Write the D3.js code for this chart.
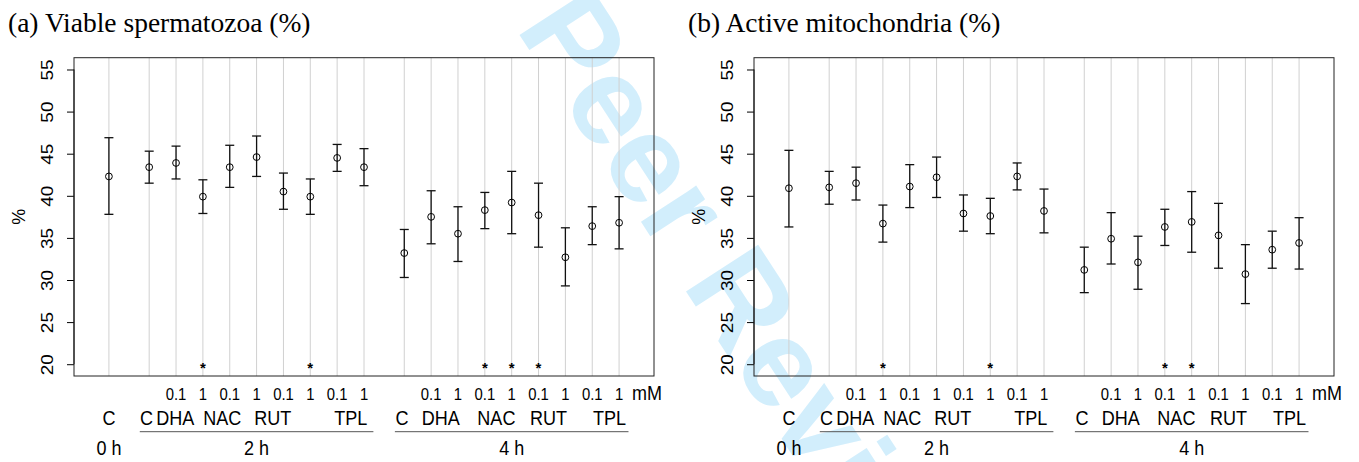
<!DOCTYPE html>
<html><head><meta charset="utf-8">
<script src="https://cdn.jsdelivr.net/npm/d3@7"></script>
<style>html,body{margin:0;padding:0;background:#fff;}svg{display:block;}</style>
</head><body>
<script>
// ---------- data ----------
const timeGroups = ["0 h", "2 h", "4 h"];
const groupOf = [0, 1,1,1,1,1,1,1,1,1, 2,2,2,2,2,2,2,2,2];
const doseLabels = ["", "", "0.1","1","0.1","1","0.1","1","0.1","1", "", "0.1","1","0.1","1","0.1","1","0.1","1"];
const agentLabels0h = ["C"];
const agentLabels = ["C", "DHA", "NAC", "RUT", "TPL"];
const doseUnit = "mM";
const yTicks = [20, 25, 30, 35, 40, 45, 50, 55];
const panelTitles = ["(a) Viable spermatozoa (%)", "(b) Active mitochondria (%)"];

const viableMean = [42.3, 43.4, 43.9, 39.9, 43.4, 44.6, 40.5, 39.9, 44.5, 43.4, 33.2, 37.5, 35.5, 38.3, 39.2, 37.7, 32.7, 36.4, 36.8];
const viableHigh = [46.9, 45.3, 45.9, 41.9, 46.0, 47.1, 42.7, 42.0, 46.1, 45.6, 36.0, 40.6, 38.7, 40.4, 42.9, 41.5, 36.2, 38.7, 39.9];
const viableLow  = [37.8, 41.5, 42.0, 37.9, 41.0, 42.3, 38.4, 37.8, 42.9, 41.2, 30.3, 34.3, 32.2, 36.1, 35.5, 33.9, 29.3, 34.2, 33.7];
const viableSig  = [0,0,0,1,0,0,0,1,0,0, 0,0,0,1,1,1,0,0,0];

const mitoMean = [40.9, 41.0, 41.5, 36.7, 41.1, 42.2, 37.9, 37.6, 42.3, 38.2, 31.2, 34.9, 32.1, 36.3, 36.9, 35.3, 30.7, 33.6, 34.4];
const mitoHigh = [45.4, 42.9, 43.4, 38.9, 43.7, 44.6, 40.1, 39.7, 43.9, 40.8, 33.9, 38.0, 35.2, 38.4, 40.5, 39.1, 34.2, 35.8, 37.4];
const mitoLow  = [36.3, 39.0, 39.5, 34.5, 38.6, 39.8, 35.8, 35.5, 40.7, 35.6, 28.5, 31.9, 28.9, 34.1, 33.3, 31.4, 27.2, 31.4, 31.3];
const mitoSig  = [0,0,0,1,0,0,0,1,0,0, 0,0,0,1,1,0,0,0,0];

// ---------- layout ----------
const W = 1359, H = 462;
const FONT = "'Liberation Sans', Arial, Helvetica, sans-serif";
const SERIF = "'Liberation Serif', 'Times New Roman', serif";

// x positions (domain units) derived from group structure: 1.5 gap between time groups
const xPos = [];
groupOf.forEach((g, i) => {
  if (i === 0) xPos.push(0);
  else xPos.push(xPos[i - 1] + (g !== groupOf[i - 1] ? 1.5 : 1));
});

const svg = d3.select("body").append("svg").attr("width", W).attr("height", H);
svg.append("rect").attr("width", W).attr("height", H).attr("fill", "#fff");

// watermark
const wm = svg.append("g").attr("transform", "translate(515,28) rotate(57)");
const wmText = wm.append("text")
  .attr("font-family", FONT).attr("font-weight", "bold").attr("font-size", 125)
  .attr("fill", "#d2eefc").text("For Peer Review");
const forLen = wmText.node().getSubStringLength(0, 4);
wmText.attr("x", -forLen);

function hText(g, x, y, str, size, anchor, sx, family) {
  return g.append("text")
    .attr("transform", `translate(${x},${y}) scale(${sx},1)`)
    .attr("text-anchor", anchor)
    .attr("font-family", family || FONT)
    .attr("font-size", size)
    .attr("fill", "#000")
    .style("white-space", "pre")
    .text(str);
}

const panels = [
  { title: panelTitles[0], mean: viableMean, hi: viableHigh, lo: viableLow, sig: viableSig },
  { title: panelTitles[1], mean: mitoMean, hi: mitoHigh, lo: mitoLow, sig: mitoSig }
];

const x = d3.scaleLinear().domain([-1.3, 20.3]).range([74, 654]);
const y = d3.scaleLinear().domain([18.6, 56.4]).range([376, 57.7]);

// measured label anchors for agent names (domain units) per time group
const agentX = {
  1: [1.40, 2.47, 4.22, 6.10, 9.01],
  2: [10.92, 12.36, 14.43, 16.37, 18.64]
};

panels.forEach((p, pi) => {
  const g = svg.append("g").attr("transform", `translate(${pi * 680},0)`);

  // title
  hText(g, 8, 32, p.title, 27.5, "start", 1.0, SERIF);

  // grid lines
  g.selectAll("line.grid").data(xPos).enter().append("line")
    .attr("x1", d => x(d)).attr("x2", d => x(d))
    .attr("y1", y.range()[1]).attr("y2", y.range()[0])
    .attr("stroke", "#d0d0d0").attr("stroke-width", 1);

  // y axis
  const ax = g.append("g").attr("transform", `translate(${x.range()[0]},0)`)
    .call(d3.axisLeft(y).tickValues(yTicks).tickSize(7).tickSizeOuter(0).tickPadding(0));
  ax.select(".domain").remove();
  ax.selectAll("line").attr("stroke", "#000");
  ax.selectAll("text")
    .attr("x", null).attr("dy", null)
    .attr("transform", "translate(-21.5,0) rotate(-90) scale(1,0.86)")
    .attr("text-anchor", "middle")
    .attr("font-family", FONT).attr("font-size", 19).attr("fill", "#000");
  ax.append("line").attr("x1", 0).attr("x2", 0)
    .attr("y1", y(yTicks[0])).attr("y2", y(yTicks[yTicks.length - 1])).attr("stroke", "#000");

  // y title
  g.append("text").attr("transform", `translate(25,${(y.range()[0] + y.range()[1]) / 2}) rotate(-90)`)
    .attr("text-anchor", "middle").attr("font-family", FONT).attr("font-size", 18).text("%");

  // box
  g.append("rect").attr("x", x.range()[0]).attr("y", y.range()[1])
    .attr("width", x.range()[1] - x.range()[0]).attr("height", y.range()[0] - y.range()[1])
    .attr("fill", "none").attr("stroke", "#222").attr("stroke-width", 1);

  // error bars
  const idx = d3.range(xPos.length);
  g.selectAll("line.eb").data(idx).enter().append("line")
    .attr("x1", i => x(xPos[i])).attr("x2", i => x(xPos[i]))
    .attr("y1", i => y(p.lo[i])).attr("y2", i => y(p.hi[i]))
    .attr("stroke", "#111").attr("stroke-width", 1.3);
  [p.lo, p.hi].forEach(arr => {
    g.selectAll(null).data(idx).enter().append("line")
      .attr("x1", i => x(xPos[i]) - 4.5).attr("x2", i => x(xPos[i]) + 4.5)
      .attr("y1", i => y(arr[i])).attr("y2", i => y(arr[i]))
      .attr("stroke", "#111").attr("stroke-width", 1.3);
  });
  g.selectAll("circle.m").data(idx).enter().append("circle")
    .attr("cx", i => x(xPos[i])).attr("cy", i => y(p.mean[i])).attr("r", 3.4)
    .attr("fill", "none").attr("stroke", "#000").attr("stroke-width", 1);

  // significance stars at y = 20
  g.selectAll("text.star").data(idx.filter(i => p.sig[i])).enter().append("text")
    .attr("x", i => x(xPos[i])).attr("y", y(yTicks[0]) + 8.5)
    .attr("text-anchor", "middle").attr("font-family", FONT).attr("font-size", 15)
    .attr("font-weight", "bold").text("*");

  // dose labels row
  idx.forEach(i => {
    if (doseLabels[i]) hText(g, x(xPos[i]), 400, doseLabels[i], 16.5, "middle", 0.9);
  });
  hText(g, x(xPos[xPos.length - 1]) + 13, 400, doseUnit, 20, "start", 0.9);

  // agent labels row
  hText(g, x(xPos[0]), 425, agentLabels0h[0], 20.5, "middle", 0.88);
  [1, 2].forEach(tg => {
    agentLabels.forEach((lab, k) => {
      hText(g, x(agentX[tg][k]), 425, lab, 20.5, "middle", 0.88);
    });
    const members = xPos.filter((d, i) => groupOf[i] === tg);
    const x0 = d3.min(members), x1 = d3.max(members);
    g.append("line").attr("x1", x(x0 - 0.35)).attr("x2", x(x1 + 0.35))
      .attr("y1", 431.7).attr("y2", 431.7).attr("stroke", "#555").attr("stroke-width", 1);
  });

  // time labels row
  timeGroups.forEach((t, tg) => {
    const members = xPos.filter((d, i) => groupOf[i] === tg);
    hText(g, x((d3.min(members) + d3.max(members)) / 2), 455, t, 20, "middle", 0.9);
  });
});
</script>
</body></html>
